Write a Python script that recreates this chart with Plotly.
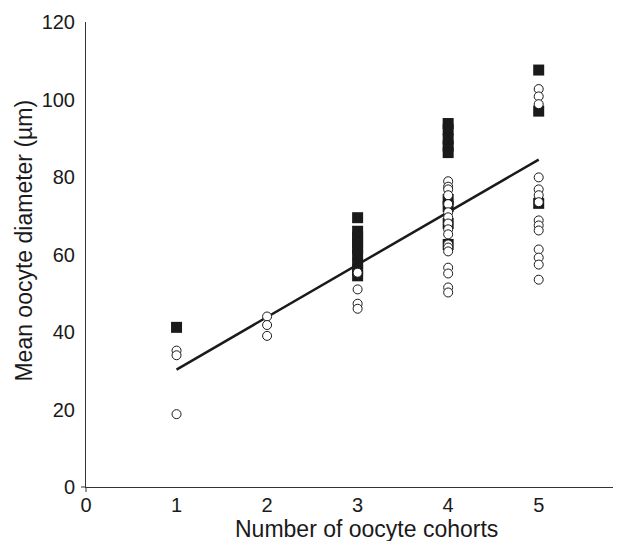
import plotly.graph_objects as go

# Filled squares (per cohort count)
sq_c1 = [41.2]
sq_c3 = [69.5, 66.0, 64.5, 63.0, 61.5, 60.0, 57.5, 56.0, 54.5]
sq_c4 = [93.8, 92.2, 89.8, 88.0, 86.3, 74.2, 72.4, 68.0, 62.6]
sq_c5 = [107.6, 97.0, 73.2]

# Open circles (per cohort count)
ci_c1 = [35.2, 34.0, 18.8]
ci_c2 = [44.0, 41.8, 39.0]
ci_c3 = [55.3, 51.0, 47.3, 46.0]
ci_c4 = [78.9, 77.5, 76.8, 75.3, 73.0, 70.9, 69.6, 68.0, 66.5, 65.2,
         62.6, 61.8, 60.8, 56.6, 55.1, 51.5, 50.2]
ci_c5 = [102.7, 100.8, 98.8, 79.9, 76.8, 75.3, 73.5, 68.8, 67.5, 66.2,
         61.3, 59.2, 57.4, 53.5]

# Regression line endpoints
fit_x = [1, 5]
fit_y = [30.3, 84.5]

x_ticks = [0, 1, 2, 3, 4, 5]
y_ticks = [0, 20, 40, 60, 80, 100, 120]

sq_groups = [(1, sq_c1), (3, sq_c3), (4, sq_c4), (5, sq_c5)]
ci_groups = [(1, ci_c1), (2, ci_c2), (3, ci_c3), (4, ci_c4), (5, ci_c5)]

sq_x, sq_y = [], []
for c, vals in sq_groups:
    sq_x += [c] * len(vals)
    sq_y += vals
ci_x, ci_y = [], []
for c, vals in ci_groups:
    ci_x += [c] * len(vals)
    ci_y += vals

fig = go.Figure()
fig.add_trace(go.Scatter(
    x=sq_x, y=sq_y, mode="markers",
    marker=dict(symbol="square", size=11, color="#1a1a1a",
                line=dict(color="#1a1a1a", width=0)),
    showlegend=False))
fig.add_trace(go.Scatter(
    x=fit_x, y=fit_y, mode="lines",
    line=dict(color="#1a1a1a", width=2.5),
    showlegend=False))
fig.add_trace(go.Scatter(
    x=ci_x, y=ci_y, mode="markers",
    marker=dict(symbol="circle", size=9, color="white",
                line=dict(color="#1a1a1a", width=1)),
    showlegend=False))

font_family = "Liberation Sans, Arial, Helvetica, sans-serif"

fig.update_layout(
    width=614, height=533,
    margin=dict(l=78, r=0, t=14, b=54),
    paper_bgcolor="white", plot_bgcolor="white",
    font=dict(family=font_family, color="#1a1a1a", size=20),
    xaxis=dict(range=[0, 5.92], tickvals=x_ticks, ticktext=[str(v) for v in x_ticks],
               showgrid=False, zeroline=False, showline=True,
               linecolor="#333333", linewidth=1, ticks="",
               tickfont=dict(size=20, color="#1a1a1a")),
    yaxis=dict(range=[0, 120], tickvals=y_ticks, ticktext=[str(v) for v in y_ticks],
               showgrid=False, zeroline=False, showline=True,
               linecolor="#333333", linewidth=1, ticks="",
               ticklabelstandoff=6,
               tickfont=dict(size=20, color="#1a1a1a")),
    shapes=[
        dict(type="line", xref="paper", yref="paper", x0=0, x1=0,
             ysizemode="pixel", yanchor=0, y0=0, y1=-5,
             line=dict(color="#333333", width=1)),
        dict(type="line", xref="paper", yref="paper", y0=0, y1=0,
             xsizemode="pixel", xanchor=0, x0=0, x1=-5,
             line=dict(color="#333333", width=1)),
    ],
    annotations=[
        dict(text="Number of oocyte cohorts", xref="paper", yref="paper",
             x=0.5, xshift=12, y=0, yshift=-42, xanchor="center", yanchor="middle",
             showarrow=False, font=dict(size=23)),
        dict(text="Mean oocyte diameter (µm)", xref="paper", yref="paper",
             x=0, xshift=-62, y=0.53, xanchor="center", yanchor="middle",
             textangle=-90, showarrow=False, font=dict(size=23)),
    ],
)

fig.write_html("out.html")
